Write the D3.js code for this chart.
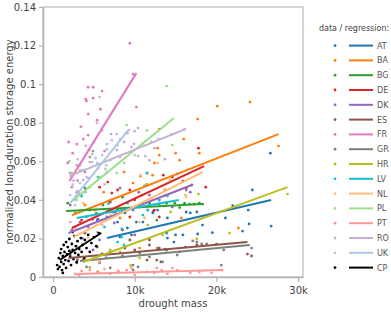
<!DOCTYPE html>
<html>
<head>
<meta charset="UTF-8">
<script src="https://cdnjs.cloudflare.com/ajax/libs/d3/7.8.5/d3.min.js"></script>
<style>
  body { margin: 0; background: #fff; }
  text { font-family: "DejaVu Sans", Verdana, sans-serif; }
</style>
</head>
<body>
<script>
// drought mass in thousands, normalized LDS energy
var countries = ["AT","BA","BG","DE","DK","ES","FR","GR","HR","LV","NL","PL","PT","RO","UK","CP"];
var palette = ["#1f77b4","#ff7f0e","#2ca02c","#d62728","#9467bd","#8c564b","#e377c2","#7f7f7f",
               "#bcbd22","#17becf","#ffbb78","#98df8a","#ff9896","#c5b0d5","#aec7e8","#000000"];

var ptsAT = [[26.6,0.0642],[24.4,0.0451],[23.9,0.0347],[24.0,0.0275],[26.7,0.0264],[23.2,0.0238],[21.1,0.0306],
  [18.3,0.0269],[17.7,0.0223],[17.6,0.0337],[16.8,0.0332],[15.9,0.0218],[14.8,0.0181],[14.0,0.0306],[12.8,0.0347],
  [10.2,0.0285],[9.1,0.0254],[11.6,0.0347],[15.0,0.0218],[14.0,0.0202],[7.3,0.0337],[8.8,0.0332],[7.9,0.0285],
  [11.0,0.0285],[12.2,0.0332],[9.6,0.0218],[8.2,0.0207],[13.9,0.0228],[16.3,0.0337],[5.5,0.0300],[19.5,0.0230],
  [22.0,0.0370]];
var ptsBA = [[20.1,0.0886],[24.1,0.0907],[17.7,0.0819],[27.6,0.0679],[16.0,0.0715],[15.0,0.0642],[13.0,0.0632],
  [13.0,0.0767],[12.8,0.0668],[12.4,0.0591],[8.7,0.0544],[10.7,0.0523],[9.8,0.0487],[17.9,0.0642],[15.5,0.0606],
  [12.2,0.0528],[10.9,0.0425],[15.7,0.0306],[22.7,0.0254],[10.6,0.0150],[5.1,0.0347],[7.0,0.0399],[8.2,0.0306],
  [3.9,0.0373],[13.7,0.0451],[6.2,0.0440],[11.5,0.0480]];
var ptsBG = [[4.5,0.0347],[6.1,0.0373],[9.8,0.0357],[11.0,0.0383],[13.9,0.0383],[12.7,0.0295],[16.7,0.0378],
  [17.3,0.0378],[17.9,0.0383],[18.3,0.0378],[16.1,0.0383],[14.9,0.0383],[13.0,0.0378],[11.8,0.0383],[1.8,0.0383],
  [2.7,0.0404],[7.9,0.0347],[8.5,0.0414],[3.9,0.0461],[5.3,0.0330],[15.5,0.0360]];
var ptsDE = [[17.8,0.0668],[18.7,0.0466],[13.5,0.0528],[12.3,0.0342],[15.9,0.0497],[6.7,0.0492],[7.2,0.0435],
  [7.9,0.0451],[5.7,0.0466],[3.5,0.0295],[7.6,0.0337],[10.6,0.0363],[13.0,0.0311],[7.0,0.0389],[9.4,0.0451],
  [11.5,0.0539],[16.3,0.0461],[14.6,0.0518],[8.5,0.0244],[3.9,0.0228],[9.4,0.0311],[12.4,0.0347],[4.8,0.0300],
  [10.0,0.0400]];
var ptsDK = [[17.0,0.0477],[16.8,0.0440],[2.3,0.0244],[3.3,0.0285],[4.3,0.0259],[5.4,0.0295],[6.6,0.0311],
  [9.8,0.0347],[13.0,0.0399],[14.6,0.0363],[16.3,0.0451],[5.7,0.0192],[4.9,0.0140],[8.2,0.0461],[10.5,0.0440],
  [10.0,0.0218],[11.8,0.0425],[2.1,0.0373],[7.5,0.0280],[3.6,0.0200]];
var ptsES = [[23.8,0.0119],[24.3,0.0109],[16.2,0.0155],[17.6,0.0166],[13.7,0.0145],[13.0,0.0150],[11.8,0.0166],
  [12.7,0.0088],[13.2,0.0078],[12.8,0.0150],[15.5,0.0130],[8.8,0.0150],[9.4,0.0192],[5.4,0.0155],[7.0,0.0130],
  [8.5,0.0104],[11.5,0.0088],[13.9,0.0140],[3.7,0.0088],[2.9,0.0073],[11.8,0.0192],[2.1,0.0114],[6.0,0.0120],
  [10.0,0.0140],[20.0,0.0170]];
var ptsFR = [[9.4,0.1212],[9.8,0.1052],[10.2,0.0881],[4.3,0.0984],[4.9,0.0984],[6.0,0.0964],[4.0,0.0922],
  [4.1,0.0912],[4.9,0.0927],[4.3,0.0845],[5.4,0.0813],[2.9,0.0689],[3.7,0.0715],[4.3,0.0736],[4.9,0.0653],
  [6.3,0.0653],[1.8,0.0591],[2.1,0.0539],[2.3,0.0466],[2.9,0.0440],[3.3,0.0430],[3.9,0.0544],[4.5,0.0622],
  [2.4,0.0642],[1.9,0.0700],[3.4,0.0780],[5.8,0.0870],[3.0,0.0500]];
var ptsGR = [[20.6,0.0062],[20.9,0.0140],[17.6,0.0181],[18.2,0.0171],[18.8,0.0171],[17.1,0.0187],[13.4,0.0078],
  [9.8,0.0036],[10.4,0.0052],[4.1,0.0052],[5.7,0.0073],[7.0,0.0047],[9.8,0.0062],[11.8,0.0104],[10.6,0.0124],
  [24.3,0.0150],[15.2,0.0114],[3.0,0.0090],[6.5,0.0100],[8.5,0.0110]];
var ptsHR = [[28.7,0.0430],[17.8,0.0430],[14.4,0.0337],[17.6,0.0197],[11.6,0.0269],[13.4,0.0218],[5.5,0.0026],
  [8.2,0.0130],[5.7,0.0078],[3.9,0.0098],[10.6,0.0098],[21.6,0.0228],[7.0,0.0140],[4.5,0.0050],[9.5,0.0060]];
var ptsLV = [[11.5,0.0539],[15.2,0.0534],[11.2,0.0472],[5.5,0.0518],[11.6,0.0347],[8.7,0.0166],[8.4,0.0249],
  [4.1,0.0311],[6.3,0.0259],[9.1,0.0383],[11.0,0.0321],[13.0,0.0399],[8.4,0.0207],[7.9,0.0181],[2.7,0.0332],
  [14.0,0.0420],[6.8,0.0380],[3.5,0.0420]];
var ptsNL = [[10.7,0.0528],[12.8,0.0591],[16.2,0.0425],[11.2,0.0306],[3.7,0.0383],[7.0,0.0321],[10.6,0.0285],
  [12.1,0.0399],[13.7,0.0425],[16.3,0.0415],[4.3,0.0202],[5.7,0.0228],[14.3,0.0503],[2.7,0.0254],[8.5,0.0350],
  [6.0,0.0270]];
var ptsPL = [[13.9,0.0990],[9.0,0.0788],[8.2,0.0715],[10.9,0.0689],[12.0,0.0700],[14.6,0.0684],[4.8,0.0637],
  [8.7,0.0591],[2.3,0.0539],[3.3,0.0554],[4.5,0.0466],[5.7,0.0518],[7.8,0.0539],[2.9,0.0399],[7.0,0.0606],
  [10.0,0.0632],[3.8,0.0440],[6.5,0.0580],[11.5,0.0760],[2.0,0.0600]];
var ptsPT = [[12.7,0.0047],[13.3,0.0036],[15.2,0.0036],[16.8,0.0021],[20.7,0.0036],[14.0,0.0016],[12.4,0.0021],
  [10.0,0.0010],[2.7,0.0016],[3.5,0.0031],[4.5,0.0036],[5.4,0.0026],[7.0,0.0016],[9.0,0.0036],[9.6,0.0047],
  [11.5,0.0026],[14.6,0.0047],[17.9,0.0026],[19.4,0.0021],[5.7,0.0078],[3.2,0.0008],[6.3,0.0041],[8.0,0.0031]];
var ptsRO = [[7.1,0.0741],[7.8,0.0741],[9.1,0.0746],[10.0,0.0756],[10.4,0.0772],[6.6,0.0689],[7.8,0.0658],
  [9.6,0.0674],[10.4,0.0627],[11.3,0.0627],[12.4,0.0668],[13.7,0.0611],[16.1,0.0767],[11.8,0.0606],[4.5,0.0596],
  [3.3,0.0580],[3.7,0.0503],[5.5,0.0565],[6.6,0.0544],[4.3,0.0513],[5.4,0.0233],[2.9,0.0580],[8.2,0.0622],
  [2.1,0.0285],[3.0,0.0445],[4.0,0.0680],[5.0,0.0700],[6.0,0.0760],[8.7,0.0700],[9.9,0.0690],[12.9,0.0715],
  [14.5,0.0740],[6.3,0.0480],[2.5,0.0500]];
var ptsUK = [[5.7,0.0933],[5.4,0.0798],[9.3,0.0762],[8.9,0.0746],[6.6,0.0663],[5.2,0.0617],[4.1,0.0518],
  [3.3,0.0487],[2.1,0.0425],[2.7,0.0373],[5.4,0.0591],[6.0,0.0632],[3.7,0.0554],[7.9,0.0684],[4.8,0.0596],
  [7.2,0.0710],[3.0,0.0610],[4.4,0.0660],[6.4,0.0560],[2.4,0.0480],[4.0,0.0440]];
var ptsCP = [[0.5,0.0062],[0.6,0.0041],[0.7,0.0098],[0.8,0.0052],[0.9,0.0124],[1.0,0.0078],[1.0,0.0145],
  [1.1,0.0036],[1.2,0.0109],[1.3,0.0166],[1.3,0.0067],[1.4,0.0130],[1.5,0.0088],[1.6,0.0181],[1.6,0.0047],
  [1.7,0.0119],[1.8,0.0155],[1.9,0.0083],[2.0,0.0197],[2.0,0.0135],[2.1,0.0104],[2.2,0.0062],[2.3,0.0171],
  [2.4,0.0140],[2.5,0.0093],[2.6,0.0212],[2.7,0.0124],[2.8,0.0160],[2.9,0.0078],[3.0,0.0186],[3.1,0.0114],
  [3.2,0.0145],[3.4,0.0202],[3.5,0.0130],[3.6,0.0166],[3.8,0.0098],[3.9,0.0192],[4.1,0.0150],[4.3,0.0218],
  [4.5,0.0130],[4.7,0.0176],[5.0,0.0207],[5.3,0.0160],[5.6,0.0228],[1.2,0.0021],[2.4,0.0233]];

// regression segments [x0, y0, x1, y1]
var regression = [
  [6.6,0.0202,26.7,0.0399],[2.3,0.0320,27.6,0.0741],[1.6,0.0342,18.3,0.0378],[2.3,0.0254,18.5,0.0575],
  [1.9,0.0228,17.0,0.0477],[1.9,0.0098,23.8,0.0181],[2.0,0.0497,10.2,0.1057],[3.3,0.0083,24.1,0.0166],
  [3.7,0.0078,28.7,0.0466],[2.9,0.0306,15.4,0.0399],[2.5,0.0207,18.3,0.0544],[2.2,0.0389,14.8,0.0824],
  [2.7,0.0016,20.7,0.0036],[2.0,0.0523,16.2,0.0767],[2.1,0.0383,9.2,0.0762],[0.8,0.0088,5.9,0.0228]];

var xTicks = [0, 10, 20, 30];
var xTickLabels = ["0", "10k", "20k", "30k"];
var yTicks = [0, 0.02, 0.04, 0.06, 0.08, 0.1, 0.12, 0.14];
var yTickLabels = ["0", "0.02", "0.04", "0.06", "0.08", "0.1", "0.12", "0.14"];

var points = [ptsAT, ptsBA, ptsBG, ptsDE, ptsDK, ptsES, ptsFR, ptsGR, ptsHR, ptsLV, ptsNL, ptsPL, ptsPT, ptsRO, ptsUK, ptsCP];

var W = 391, H = 312;
var mLeft = 43, mRight = 303, mTop = 7, mBottom = 277;

var svg = d3.select("body").append("svg").attr("width", W).attr("height", H);

var x = d3.scaleLinear().domain([-1.23, 30.6]).range([mLeft, mRight]);
var y = d3.scaleLinear().domain([0, 0.14]).range([mBottom, mTop]);
var color = d3.scaleOrdinal().domain(countries).range(palette);

// frame
svg.append("rect")
  .attr("x", mLeft).attr("y", mTop)
  .attr("width", mRight - mLeft).attr("height", mBottom - mTop)
  .attr("fill", "none").attr("stroke", "#c8c8c8").attr("stroke-width", 1.5);

var xAxis = svg.append("g")
  .attr("transform", "translate(0," + mBottom + ")")
  .call(d3.axisBottom(x).tickValues(xTicks).tickSize(5).tickSizeOuter(0)
    .tickFormat(function(d, i) { return xTickLabels[i]; }));
var yAxis = svg.append("g")
  .attr("transform", "translate(" + mLeft + ",0)")
  .call(d3.axisLeft(y).tickValues(yTicks).tickSize(4).tickSizeOuter(0)
    .tickFormat(function(d, i) { return yTickLabels[i]; }));

[xAxis, yAxis].forEach(function(g) {
  g.select(".domain").attr("stroke", "#b4b4b4").attr("stroke-width", 1.5);
  g.selectAll(".tick line").attr("stroke", "#b4b4b4").attr("stroke-width", 1.2);
  g.selectAll(".tick text").attr("fill", "#444").style("font-family", "DejaVu Sans").style("font-size", "10px");
});
xAxis.selectAll(".tick text").attr("dy", "0.9em");
yAxis.selectAll(".tick text").attr("x", -7);

svg.append("text")
  .attr("x", (mLeft + mRight) / 2).attr("y", 307)
  .attr("text-anchor", "middle").attr("fill", "#444").style("font-size", "10px")
  .text("drought mass");
svg.append("text")
  .attr("transform", "translate(13," + ((mTop + mBottom) / 2) + ") rotate(-90)")
  .attr("text-anchor", "middle").attr("fill", "#444").style("font-size", "10px")
  .text("normalized long-duration storage energy");

// dots
var plot = svg.append("g");
countries.forEach(function(c, i) {
  plot.append("g").selectAll("circle")
    .data(points[i])
    .join("circle")
    .attr("cx", function(d) { return x(d[0]); })
    .attr("cy", function(d) { return y(d[1]); })
    .attr("r", 1.4)
    .attr("fill", color(c));
});

// regression lines
plot.append("g").selectAll("line")
  .data(regression)
  .join("line")
  .attr("x1", function(d) { return x(d[0]); })
  .attr("y1", function(d) { return y(d[1]); })
  .attr("x2", function(d) { return x(d[2]); })
  .attr("y2", function(d) { return y(d[3]); })
  .attr("stroke", function(d, i) { return color(countries[i]); })
  .attr("stroke-width", 2);

// legend
var legend = svg.append("g").attr("transform", "translate(319,0)");
legend.append("text")
  .attr("x", 0).attr("y", 31)
  .attr("fill", "#444").style("font-size", "8px")
  .text("data / regression:");
var item = legend.selectAll("g.item")
  .data(countries)
  .join("g")
  .attr("class", "item")
  .attr("transform", function(d, i) { return "translate(0," + (45.6 + i * 14.8) + ")"; });
item.append("circle").attr("cx", 16).attr("cy", 0).attr("r", 1.4).attr("fill", function(d) { return color(d); });
item.append("line").attr("x1", 30).attr("x2", 54).attr("y1", 0).attr("y2", 0)
  .attr("stroke", function(d) { return color(d); }).attr("stroke-width", 2);
item.append("text").attr("x", 58).attr("y", 3)
  .attr("fill", "#555").style("font-size", "8px")
  .text(function(d) { return d; });
</script>
</body>
</html>
